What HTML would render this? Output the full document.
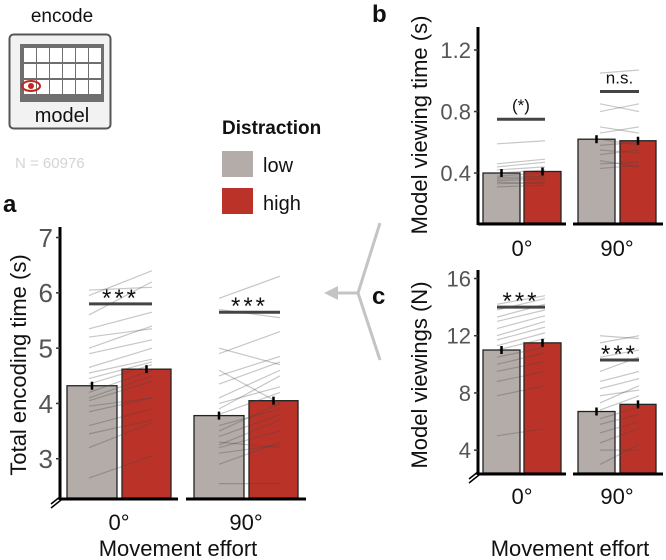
<!DOCTYPE html>
<html><head><meta charset="utf-8">
<style>
body{margin:0;background:#fff;}
svg{display:block;font-family:"Liberation Sans","DejaVu Sans",sans-serif;}
</style></head>
<body>
<svg id="fig" width="666" height="560" viewBox="0 0 666 560">
  <g>
    <text x="62" y="22" font-size="19" text-anchor="middle" fill="#111">encode</text>
    <rect x="9.5" y="34.5" width="101" height="94" rx="4" fill="#f2f2f2" stroke="#555" stroke-width="2"/>
    <rect x="20" y="44" width="84" height="58" fill="#6f6f6f"/>
    <g id="cells"></g>
    <ellipse cx="31" cy="86" rx="9" ry="5" fill="none" stroke="#c0281e" stroke-width="2"/>
    <circle cx="31" cy="86" r="3" fill="#c0281e"/>
    <text x="62" y="122" font-size="20" text-anchor="middle" fill="#111">model</text>
  </g>
  <text x="15" y="168" font-size="15" fill="#d4d4d4">N = 60976</text>
  <g>
    <text x="222" y="134" font-size="19" font-weight="bold" fill="#111">Distraction</text>
    <rect x="222" y="151" width="31" height="26" fill="#b3aca9"/>
    <text x="263" y="172" font-size="20" fill="#111">low</text>
    <rect x="222" y="188" width="31" height="26" fill="#bb3328"/>
    <text x="263" y="210" font-size="20" fill="#111">high</text>
  </g>
  <g stroke="#c4c4c4" stroke-width="3" fill="none">
    <line x1="380" y1="223" x2="358" y2="293"/>
    <line x1="380" y1="360" x2="358" y2="293"/>
    <line x1="358" y1="293" x2="334" y2="293"/>
  </g>
  <polygon points="324,293 338,286 338,300" fill="#c4c4c4"/>
  <text x="3" y="212" font-size="24" font-weight="bold" fill="#111">a</text>
  <text x="372" y="22" font-size="24" font-weight="bold" fill="#111">b</text>
  <text x="372" y="304" font-size="24" font-weight="bold" fill="#111">c</text>
  <g id="charts"></g>
</svg>
<script>
const aCats = ["0°","90°"];
const aLow = [4.32, 3.78];
const aHigh = [4.62, 4.05];
const aTicks = [3,4,5,6,7];
const aSig = ["***","***"];
const aSigVal = [5.8, 5.65];
const aSubj0Low = [2.65,3.2,3.45,3.6,3.85,3.95,4.05,4.1,4.2,4.35,4.45,4.55,4.65,4.9,5.0,5.2,5.35,5.6,5.95,6.05];
const aSubj0High = [3.05,3.65,3.7,3.9,4.1,4.1,4.4,4.5,4.6,4.7,4.75,4.8,5.0,5.15,5.4,5.35,5.65,6.2,6.4,6.1];
const aSubj90Low = [2.55,2.9,3.1,3.2,3.25,3.4,3.5,3.6,3.8,3.9,4.0,4.1,4.35,4.5,4.9,5.0,5.7,5.9,4.6,3.3];
const aSubj90High = [2.55,3.3,3.25,3.5,3.7,3.8,4.0,3.9,4.2,4.5,4.3,4.6,4.75,4.85,5.3,4.7,5.55,6.3,4.0,3.2];
const bLow = [0.40, 0.62];
const bHigh = [0.41, 0.61];
const bTicks = [0.4,0.8,1.2];
const bSig = ["(*)","n.s."];
const bSigVal = [0.75, 0.93];
const bSubj0Low = [0.31,0.33,0.34,0.35,0.36,0.37,0.38,0.40,0.42,0.44,0.46,0.59];
const bSubj0High = [0.32,0.34,0.33,0.36,0.37,0.38,0.40,0.42,0.44,0.47,0.49,0.61];
const bSubj90Low = [0.43,0.46,0.48,0.52,0.55,0.58,0.62,0.66,0.70,0.80,0.85,1.05];
const bSubj90High = [0.45,0.47,0.44,0.55,0.53,0.60,0.58,0.70,0.66,0.85,0.80,1.07];
const cLow = [11.0, 6.7];
const cHigh = [11.5, 7.2];
const cTicks = [4,8,12,16];
const cSig = ["***","***"];
const cSigVal = [14.0, 10.3];
const cSubj0Low = [5.0,7.8,8.8,9.5,10.0,10.5,11.0,11.3,11.7,12.0,12.5,13.0,13.3,13.8,14.2];
const cSubj0High = [5.5,8.5,9.5,10.2,10.8,11.2,11.8,12.2,12.6,13.0,13.4,13.8,14.2,14.6,14.8];
const cSubj90Low = [3.0,4.0,4.5,5.2,5.8,6.2,6.8,7.3,7.8,8.3,8.8,9.5,10.5,11.5,12.0];
const cSubj90High = [4.4,4.0,5.5,6.0,6.5,7.0,7.8,8.5,8.2,9.0,9.5,10.5,11.0,12.0,11.8];

const NS="http://www.w3.org/2000/svg";
function mk(tag, attrs, parent, text){const e=document.createElementNS(NS,tag);for(const k in attrs)e.setAttribute(k,attrs[k]);if(text!==undefined)e.textContent=text;parent.appendChild(e);return e;}

const cells=document.getElementById('cells');
for(let r=0;r<3;r++)for(let c=0;c<6;c++){
  const cell=mk('rect',{x:24+c*13,y:48+r*16,width:12,height:14,fill:'#fff'},cells);
  
  
}

const root=document.getElementById('charts');
function panel(cfg){
  const g=mk('g',{},root);
  
  
  const y=v=>cfg.y0+(v-cfg.v0)*cfg.k;
  cfg.groups.forEach((gr,gi)=>{
    [['low',cfg.low[gi],'#b3aca9'],['high',cfg.high[gi],'#bb3328']].forEach(([n,v,col])=>{
      const xr=gr[n];
      const b=mk('rect',{x:xr[0],y:y(v),width:xr[1]-xr[0],height:cfg.y0-y(v),fill:col,stroke:'#222','stroke-width':1.3},g);
      
      
    });
  });
  const subj=[[cfg.s0l,cfg.s0h],[cfg.s1l,cfg.s1h]];
  subj.forEach((pair,gi)=>{
    const xl=cfg.groups[gi].sig[0], xh=cfg.groups[gi].sig[1];
    pair[0].forEach((v,i)=>{
      const l=mk('line',{x1:xl,y1:y(v),x2:xh,y2:y(pair[1][i]),stroke:'#444','stroke-opacity':0.3,'stroke-width':1.2},g);
      
      
    });
  });
  cfg.groups.forEach((gr,gi)=>{
    [['low',cfg.low[gi]],['high',cfg.high[gi]]].forEach(([n,v])=>{
      const xr=gr[n];
      const e=mk('line',{x1:(xr[0]+xr[1])/2,x2:(xr[0]+xr[1])/2,y1:y(v)-4,y2:y(v)+4,stroke:'#000','stroke-width':2.5},g);
      
      
    });
    const ax=mk('line',{x1:gr.axis[0],x2:gr.axis[1],y1:cfg.y0+1,y2:cfg.y0+1,stroke:'#000','stroke-width':3},g);
    
    
    const cx=(gr.low[0]+gr.high[1])/2;
    const tl=mk('text',{x:cx,y:cfg.xlabY,'font-size':cfg.fs,'text-anchor':'middle',fill:'#111'},g,cfg.cats[gi]);
    
    
    const sy=y(cfg.sigVal[gi]);
    const sl=mk('line',{x1:gr.sig[0],x2:gr.sig[1],y1:sy,y2:sy,stroke:'#444','stroke-width':3},g);
    
    
    const st=mk('text',{x:(gr.sig[0]+gr.sig[1])/2,y:sy-(cfg.sig[gi]==='***'?-2:8),'font-size':cfg.sig[gi]==='***'?24:17,'text-anchor':'middle',fill:'#111','letter-spacing':cfg.sig[gi]==='***'?3:0},g,cfg.sig[gi]);
    
    
  });
  const ya=mk('line',{x1:cfg.ax,x2:cfg.ax,y1:cfg.top,y2:cfg.y0+2,stroke:'#000','stroke-width':3},g);
  
  
  if(cfg.brk){
    const bk=mk('path',{d:`M${cfg.ax-9} ${cfg.y0+6} L${cfg.ax+1} ${cfg.y0-2} M${cfg.ax-9} ${cfg.y0+10} L${cfg.ax+1} ${cfg.y0+2}`,stroke:'#000','stroke-width':1.5,fill:'none'},g);
    
    
  }
  cfg.ticks.forEach(t=>{
    const tk=mk('line',{x1:cfg.ax-4,x2:cfg.ax,y1:y(t),y2:y(t),stroke:'#333','stroke-width':1.5},g);
    
    
    const lb=mk('text',{x:cfg.ax-7,y:y(t)+cfg.tfs*0.36,'font-size':cfg.tfs,'text-anchor':'end',fill:'#555'},g,String(t));
    
    
  });
  const yt=mk('text',{transform:`translate(${cfg.titleX},${cfg.titleY}) rotate(-90)`,'font-size':cfg.fs,'text-anchor':'middle',fill:'#111'},g,cfg.title);
  
  
  if(cfg.xtitle){
    const xt=mk('text',{x:cfg.xtitle[0],y:cfg.xtitle[1],'font-size':cfg.fs,'text-anchor':'middle',fill:'#111'},g,'Movement effort');
    
    
  }
}
panel({name:'panel-a-chart',cats:aCats,low:aLow,high:aHigh,ticks:aTicks,sig:aSig,sigVal:aSigVal,
  s0l:aSubj0Low,s0h:aSubj0High,s1l:aSubj90Low,s1h:aSubj90High,
  y0:498,v0:2.29,k:-55.3,top:227,ax:60,brk:true,tfs:26,fs:22,xlabY:530,
  groups:[{low:[67,117],high:[122,171],axis:[60,178],sig:[89,152]},{low:[194,244],high:[249,298],axis:[186,306],sig:[219,280]}],
  title:'Total encoding time (s)',titleX:26,titleY:365,xtitle:[178,556]});
panel({name:'panel-b-chart',cats:aCats,low:bLow,high:bHigh,ticks:bTicks,sig:bSig,sigVal:bSigVal,
  s0l:bSubj0Low,s0h:bSubj0High,s1l:bSubj90Low,s1h:bSubj90High,
  y0:223,v0:0.075,k:-153.75,top:27,ax:478,brk:false,tfs:22,fs:22,xlabY:256,
  groups:[{low:[483,520],high:[524,561],axis:[478,566],sig:[497,545]},{low:[578,615],high:[620,656],axis:[573,663],sig:[600,639]}],
  title:'Model viewing time (s)',titleX:427,titleY:125});
panel({name:'panel-c-chart',cats:aCats,low:cLow,high:cHigh,ticks:cTicks,sig:cSig,sigVal:cSigVal,
  s0l:cSubj0Low,s0h:cSubj0High,s1l:cSubj90Low,s1h:cSubj90High,
  y0:473,v0:2.4,k:-14.3,top:270,ax:478,brk:true,tfs:22,fs:22,xlabY:504,
  groups:[{low:[483,520],high:[524,561],axis:[478,566],sig:[497,545]},{low:[578,615],high:[620,656],axis:[573,663],sig:[600,639]}],
  title:'Model viewings (N)',titleX:427,titleY:375,xtitle:[570,556]});
</script>
</body></html>
